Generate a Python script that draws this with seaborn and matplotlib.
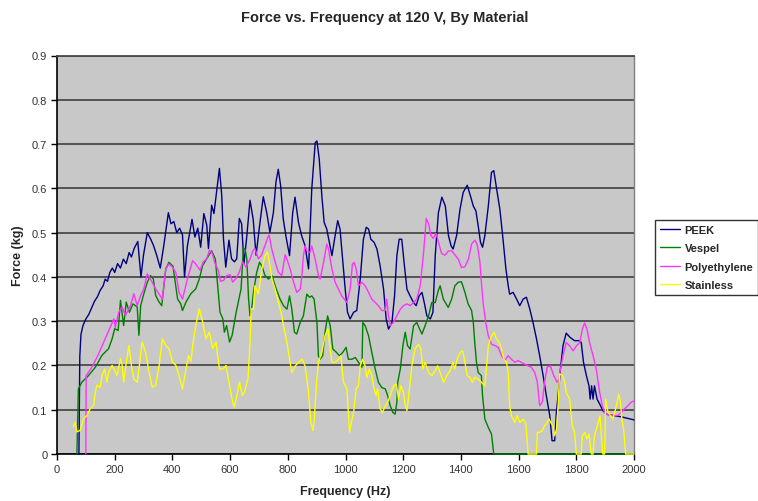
import matplotlib
matplotlib.use("Agg")
import matplotlib.pyplot as plt
import seaborn as sns
import pandas as pd

sns.set_style("white")
plt.rcParams['font.family'] = ['Liberation Sans', 'DejaVu Sans']

materials = ["PEEK", "Vespel", "Polyethylene", "Stainless"]
colors = ["#000080", "#008000", "#FF33FF", "#FFFF00"]

peek_hz = [70, 76, 79, 83, 90, 100, 110, 120, 130, 140, 150, 160, 167, 175, 183, 192, 200, 210, 220, 230,
           240, 250, 258, 268, 280, 291, 300, 313, 325, 335, 345, 358, 370, 386, 395, 405, 415, 425, 435, 442,
           452, 468, 478, 488, 498, 509, 519, 525, 536, 544, 553, 563, 571, 577, 585, 596, 605, 615, 623, 632,
           640, 648, 657, 669, 680, 690, 703, 715, 727, 738, 750, 759, 767, 775, 784, 794, 806, 817, 825, 837,
           848, 860, 872, 883, 895, 901, 909, 918, 926, 935, 944, 953, 964, 973, 981, 991, 999, 1007, 1016, 1028,
           1039, 1051, 1062, 1072, 1080, 1088, 1099, 1109, 1120, 1132, 1141, 1149, 1161, 1170, 1178, 1186, 1195, 1203, 1213, 1224,
           1236, 1245, 1255, 1265, 1273, 1282, 1294, 1303, 1311, 1322, 1334, 1346, 1357, 1366, 1373, 1385, 1397, 1408, 1422, 1433,
           1443, 1452, 1460, 1468, 1475, 1483, 1495, 1506, 1514, 1523, 1535, 1546, 1556, 1564, 1569, 1581, 1593, 1604, 1616, 1627,
           1639, 1650, 1662, 1673, 1685, 1696, 1708, 1716, 1725, 1731, 1737, 1745, 1754, 1765, 1779, 1794, 1809, 1817, 1825, 1835,
           1844, 1848, 1853, 1858, 1863, 1872, 1881, 1892, 1904, 1927, 1956, 2000]
peek_kg = [0.0, 0.0, 0.22, 0.27, 0.29, 0.305, 0.315, 0.33, 0.345, 0.355, 0.37, 0.38, 0.395, 0.39, 0.41, 0.42, 0.41, 0.43, 0.42, 0.44,
           0.43, 0.455, 0.445, 0.465, 0.48, 0.40, 0.45, 0.50, 0.485, 0.47, 0.45, 0.42, 0.47, 0.545, 0.52, 0.525, 0.50, 0.51, 0.495, 0.40,
           0.47, 0.53, 0.49, 0.51, 0.467, 0.543, 0.517, 0.464, 0.562, 0.543, 0.592, 0.645, 0.584, 0.486, 0.422, 0.483, 0.441, 0.434, 0.441, 0.532,
           0.520, 0.430, 0.486, 0.573, 0.530, 0.449, 0.52, 0.581, 0.545, 0.501, 0.545, 0.615, 0.643, 0.607, 0.532, 0.49, 0.448, 0.545, 0.58, 0.523,
           0.493, 0.47, 0.418, 0.598, 0.703, 0.707, 0.666, 0.583, 0.523, 0.508, 0.478, 0.448, 0.493, 0.527, 0.508, 0.433, 0.372, 0.32, 0.305, 0.32,
           0.324, 0.395, 0.485, 0.512, 0.508, 0.485, 0.478, 0.463, 0.425, 0.372, 0.305, 0.282, 0.297, 0.357, 0.448, 0.485, 0.485, 0.433, 0.372, 0.357,
           0.342, 0.335, 0.357, 0.365, 0.342, 0.312, 0.305, 0.32, 0.448, 0.545, 0.58, 0.56, 0.493, 0.47, 0.463, 0.493, 0.553, 0.591, 0.607, 0.583,
           0.56, 0.549, 0.515, 0.478, 0.467, 0.493, 0.56, 0.636, 0.64, 0.602, 0.553, 0.485, 0.418, 0.38, 0.361, 0.365, 0.35, 0.335, 0.35, 0.354,
           0.327, 0.297, 0.26, 0.222, 0.177, 0.132, 0.087, 0.03, 0.03, 0.094, 0.132, 0.192, 0.245, 0.273, 0.263, 0.256, 0.256, 0.252, 0.207, 0.177,
           0.154, 0.124, 0.154, 0.124, 0.154, 0.124, 0.113, 0.098, 0.09, 0.087, 0.084, 0.077]

vespel_hz = [69, 74, 86, 109, 133, 156, 179, 191, 200, 212, 220, 231, 240, 251, 263, 278, 284, 290, 301, 313,
             324, 334, 342, 354, 363, 377, 388, 402, 418, 429, 435, 447, 464, 481, 493, 505, 522, 536, 549, 557,
             565, 575, 580, 588, 598, 607, 621, 638, 646, 652, 658, 664, 669, 675, 681, 692, 702, 710, 721, 733,
             745, 756, 773, 785, 797, 806, 814, 823, 831, 843, 854, 866, 875, 883, 891, 901, 906, 912, 921, 929,
             938, 947, 956, 968, 979, 991, 1002, 1010, 1022, 1034, 1045, 1057, 1060, 1068, 1080, 1091, 1103, 1114, 1126, 1138,
             1146, 1155, 1164, 1172, 1178, 1181, 1190, 1199, 1207, 1215, 1224, 1236, 1247, 1257, 1265, 1276, 1288, 1299, 1311, 1322,
             1328, 1339, 1356, 1368, 1379, 1391, 1402, 1414, 1425, 1437, 1443, 1448, 1454, 1460, 1471, 1475, 1483, 1495, 1506, 1514,
             2000]
vespel_kg = [0.0, 0.147, 0.162, 0.177, 0.196, 0.223, 0.238, 0.26, 0.283, 0.279, 0.347, 0.29, 0.343, 0.32, 0.339, 0.332, 0.268, 0.335, 0.362, 0.388,
             0.403, 0.395, 0.358, 0.343, 0.335, 0.418, 0.433, 0.424, 0.35, 0.339, 0.324, 0.343, 0.362, 0.373, 0.395, 0.426, 0.444, 0.459, 0.44, 0.38,
             0.32, 0.305, 0.275, 0.29, 0.253, 0.268, 0.32, 0.373, 0.464, 0.463, 0.44, 0.35, 0.312, 0.33, 0.365, 0.41, 0.433, 0.425, 0.403, 0.395,
             0.403, 0.38, 0.35, 0.335, 0.327, 0.357, 0.327, 0.275, 0.271, 0.297, 0.312, 0.361, 0.354, 0.357, 0.35, 0.297, 0.222, 0.214, 0.222, 0.275,
             0.312, 0.29, 0.237, 0.23, 0.222, 0.23, 0.241, 0.214, 0.214, 0.218, 0.207, 0.196, 0.297, 0.29, 0.267, 0.23, 0.192, 0.162, 0.15, 0.147,
             0.132, 0.109, 0.094, 0.09, 0.117, 0.162, 0.192, 0.245, 0.275, 0.245, 0.237, 0.29, 0.297, 0.282, 0.271, 0.29, 0.312, 0.342, 0.342, 0.37,
             0.38, 0.35, 0.331, 0.35, 0.38, 0.388, 0.389, 0.365, 0.339, 0.324, 0.297, 0.252, 0.207, 0.184, 0.177, 0.132, 0.079, 0.06, 0.045, 0.0,
             0.0]

poly_hz = [100, 101, 121, 142, 162, 179, 197, 202, 214, 226, 237, 255, 266, 278, 290, 301, 313, 324, 342, 365,
           377, 388, 400, 412, 423, 435, 452, 470, 481, 496, 507, 519, 528, 537, 548, 559, 567, 577, 588, 600,
           609, 620, 632, 643, 655, 669, 680, 686, 698, 709, 721, 729, 735, 744, 756, 767, 779, 791, 797, 808,
           820, 831, 843, 849, 854, 860, 866, 877, 883, 895, 906, 912, 924, 935, 941, 953, 964, 976, 987, 1005,
           1016, 1024, 1030, 1037, 1045, 1057, 1068, 1080, 1091, 1103, 1114, 1126, 1138, 1143, 1149, 1155, 1166, 1178, 1190, 1201,
           1213, 1224, 1236, 1247, 1259, 1270, 1280, 1288, 1296, 1304, 1314, 1322, 1333, 1345, 1356, 1368, 1379, 1391, 1402, 1414,
           1426, 1437, 1449, 1457, 1466, 1471, 1477, 1486, 1495, 1506, 1518, 1529, 1541, 1552, 1564, 1575, 1587, 1598, 1610, 1621,
           1633, 1644, 1656, 1665, 1673, 1682, 1690, 1699, 1710, 1722, 1733, 1740, 1745, 1754, 1765, 1777, 1789, 1800, 1812, 1821,
           1829, 1837, 1846, 1858, 1869, 1881, 1890, 1898, 1910, 1927, 1944, 1956, 1967, 1979, 1990, 2000]
poly_kg = [0.0, 0.177, 0.196, 0.223, 0.253, 0.279, 0.305, 0.286, 0.32, 0.332, 0.313, 0.335, 0.362, 0.335, 0.358, 0.373, 0.407, 0.395, 0.373, 0.35,
           0.418, 0.429, 0.422, 0.41, 0.365, 0.35, 0.395, 0.437, 0.429, 0.415, 0.434, 0.441, 0.46, 0.455, 0.43, 0.415, 0.39, 0.392, 0.403, 0.405,
           0.388, 0.396, 0.411, 0.434, 0.422, 0.44, 0.46, 0.464, 0.441, 0.449, 0.471, 0.486, 0.495, 0.464, 0.434, 0.411, 0.403, 0.45, 0.44, 0.418,
           0.388, 0.365, 0.372, 0.403, 0.448, 0.47, 0.459, 0.455, 0.47, 0.44, 0.403, 0.395, 0.433, 0.474, 0.463, 0.418, 0.388, 0.372, 0.357, 0.342,
           0.372, 0.429, 0.433, 0.418, 0.38, 0.388, 0.38, 0.365, 0.35, 0.342, 0.335, 0.324, 0.324, 0.35, 0.312, 0.29, 0.297, 0.312, 0.327, 0.335,
           0.339, 0.335, 0.342, 0.35, 0.38, 0.45, 0.532, 0.52, 0.494, 0.487, 0.498, 0.479, 0.453, 0.449, 0.458, 0.459, 0.45, 0.44, 0.421, 0.423,
           0.44, 0.474, 0.483, 0.472, 0.433, 0.388, 0.342, 0.297, 0.267, 0.248, 0.245, 0.241, 0.222, 0.211, 0.222, 0.214, 0.207, 0.211, 0.207, 0.203,
           0.199, 0.196, 0.184, 0.162, 0.109, 0.117, 0.162, 0.196, 0.199, 0.177, 0.162, 0.169, 0.192, 0.222, 0.252, 0.244, 0.233, 0.244, 0.252, 0.282,
           0.296, 0.282, 0.252, 0.222, 0.192, 0.139, 0.109, 0.094, 0.088, 0.087, 0.087, 0.094, 0.102, 0.109, 0.117, 0.12]

steel_hz = [57, 63, 69, 80, 92, 104, 115, 127, 133, 138, 150, 156, 165, 173, 179, 191, 200, 208, 220, 226,
            231, 237, 249, 258, 266, 278, 284, 295, 307, 319, 330, 342, 354, 365, 377, 388, 400, 412, 423, 435,
            447, 456, 464, 472, 481, 493, 505, 516, 528, 540, 551, 563, 575, 586, 598, 609, 615, 621, 633, 642,
            650, 662, 669, 673, 681, 686, 698, 710, 721, 729, 736, 745, 756, 768, 779, 785, 797, 806, 814, 826,
            837, 849, 860, 872, 880, 887, 892, 898, 906, 918, 929, 939, 947, 953, 964, 976, 984, 993, 1005, 1014,
            1020, 1028, 1037, 1045, 1051, 1059, 1068, 1074, 1083, 1091, 1099, 1106, 1111, 1120, 1128, 1138, 1146, 1155, 1166, 1176,
            1184, 1192, 1201, 1207, 1213, 1219, 1230, 1241, 1253, 1261, 1268, 1276, 1288, 1299, 1311, 1319, 1328, 1340, 1351, 1362,
            1373, 1379, 1387, 1397, 1406, 1414, 1422, 1431, 1440, 1448, 1460, 1471, 1483, 1495, 1506, 1515, 1523, 1533, 1541, 1549,
            1558, 1564, 1569, 1575, 1587, 1595, 1604, 1616, 1625, 1633, 1662, 1665, 1673, 1682, 1690, 1699, 1706, 1711, 1719, 1725,
            1731, 1737, 1742, 1752, 1760, 1765, 1777, 1786, 1794, 1800, 1817, 1821, 1829, 1837, 1844, 1852, 1858, 1863, 1875, 1882,
            1887, 1892, 1898, 1902, 1910, 1918, 1927, 1939, 1947, 1953, 1958, 1964, 1971, 2000]
steel_kg = [0.061, 0.072, 0.05, 0.053, 0.08, 0.087, 0.102, 0.11, 0.14, 0.155, 0.151, 0.177, 0.192, 0.162, 0.185, 0.2, 0.189, 0.177, 0.215, 0.2,
            0.162, 0.192, 0.245, 0.2, 0.17, 0.162, 0.192, 0.253, 0.23, 0.185, 0.151, 0.155, 0.2, 0.26, 0.245, 0.238, 0.208, 0.2, 0.177, 0.147,
            0.192, 0.223, 0.208, 0.253, 0.29, 0.328, 0.298, 0.26, 0.275, 0.238, 0.253, 0.192, 0.192, 0.2, 0.155, 0.117, 0.106, 0.125, 0.162, 0.132,
            0.14, 0.17, 0.25, 0.328, 0.327, 0.38, 0.362, 0.418, 0.448, 0.456, 0.433, 0.395, 0.372, 0.342, 0.312, 0.29, 0.252, 0.214, 0.184, 0.199,
            0.207, 0.214, 0.199, 0.139, 0.071, 0.053, 0.079, 0.147, 0.207, 0.23, 0.267, 0.282, 0.237, 0.207, 0.207, 0.214, 0.222, 0.162, 0.147, 0.049,
            0.071, 0.094, 0.147, 0.154, 0.199, 0.214, 0.199, 0.173, 0.192, 0.177, 0.147, 0.132, 0.147, 0.102, 0.094, 0.109, 0.117, 0.132, 0.154, 0.158,
            0.124, 0.154, 0.139, 0.109, 0.098, 0.132, 0.199, 0.237, 0.248, 0.237, 0.192, 0.207, 0.184, 0.177, 0.188, 0.199, 0.184, 0.162, 0.177, 0.188,
            0.207, 0.192, 0.214, 0.229, 0.233, 0.207, 0.177, 0.173, 0.162, 0.173, 0.169, 0.162, 0.154, 0.245, 0.267, 0.275, 0.26, 0.252, 0.237, 0.214,
            0.207, 0.184, 0.109, 0.087, 0.071, 0.087, 0.071, 0.079, 0.068, 0.0, 0.0, 0.049, 0.049, 0.053, 0.064, 0.071, 0.079, 0.071, 0.064, 0.041,
            0.056, 0.109, 0.181, 0.177, 0.162, 0.139, 0.124, 0.064, 0.049, 0.0, 0.0, 0.041, 0.049, 0.034, 0.045, 0.0, 0.0, 0.041, 0.07, 0.086,
            0.04, 0.0, 0.0, 0.124, 0.094, 0.087, 0.079, 0.109, 0.135, 0.117, 0.079, 0.056, 0.0, 0.0]

x_ticks = [0, 200, 400, 600, 800, 1000, 1200, 1400, 1600, 1800, 2000]
y_ticks = [0, 0.1, 0.2, 0.3, 0.4, 0.5, 0.6, 0.7, 0.8, 0.9]
y_tick_labels = ["0", "0.1", "0.2", "0.3", "0.4", "0.5", "0.6", "0.7", "0.8", "0.9"]

frames = []
for name, hz, kg in [(materials[0], peek_hz, peek_kg), (materials[1], vespel_hz, vespel_kg),
                     (materials[2], poly_hz, poly_kg), (materials[3], steel_hz, steel_kg)]:
    frames.append(pd.DataFrame({"Frequency": hz, "Force": kg, "Material": name}))
df = pd.concat(frames, ignore_index=True)

fig = plt.figure(figsize=(7.58, 5.02), dpi=100)
ax = fig.add_axes([57 / 758, 1 - 455 / 502, 577 / 758, (455 - 56.5) / 502])
ax.set_facecolor("#C8C8C8")
ax.set_axisbelow(True)

sns.lineplot(data=df, x="Frequency", y="Force", hue="Material", hue_order=materials,
             palette=dict(zip(materials, colors)), estimator=None, sort=False,
             linewidth=1.0, ax=ax, legend=True)
for ln in ax.get_lines():
    ln.set_zorder(3)
    ln.set_clip_on(False)

ax.set_xlim(0, 2000)
ax.set_ylim(0, 0.9)
ax.set_xticks(x_ticks)
ax.set_xticklabels([str(t) for t in x_ticks])
ax.set_yticks(y_ticks)
ax.set_yticklabels(y_tick_labels)
ax.yaxis.grid(True, color="#4a4a4a", linewidth=1.3)
ax.xaxis.grid(False)
ax.tick_params(axis="both", direction="out", length=4, width=1, color="black",
               labelsize=8, labelcolor="#333333", pad=3, left=True, bottom=True)
ax.tick_params(axis="x", pad=3)
for s in ["left", "bottom"]:
    ax.spines[s].set_color("black")
    ax.spines[s].set_linewidth(1.2)
    ax.spines[s].set_zorder(2.5)
ax.spines["top"].set_color("#4a4a4a")
ax.spines["top"].set_linewidth(1.3)
ax.spines["right"].set_color("#808080")
ax.spines["right"].set_linewidth(1.0)

ax.set_xlabel("Frequency (Hz)", fontsize=9, fontweight="bold", labelpad=8)
ax.set_ylabel("Force (kg)", fontsize=9, fontweight="bold", labelpad=6)

handles, labels = ax.get_legend_handles_labels()
leg = ax.legend(handles, labels, loc="upper left", bbox_to_anchor=(655 / 758, 1 - 221 / 502),
                bbox_transform=fig.transFigure, frameon=True, fancybox=False,
                prop={"weight": "bold", "size": 8}, handlelength=1.8, handletextpad=0.4,
                labelspacing=0.75, borderpad=0.45, borderaxespad=0)
leg.get_frame().set_edgecolor("black")
leg.get_frame().set_linewidth(1.0)
leg.get_frame().set_facecolor("white")

fig.text(385 / 758, 1 - 18 / 502, "Force vs. Frequency at 120 V, By Material",
         ha="center", va="center", fontsize=10.5, fontweight="bold")

fig.savefig("out.png", dpi=100)
